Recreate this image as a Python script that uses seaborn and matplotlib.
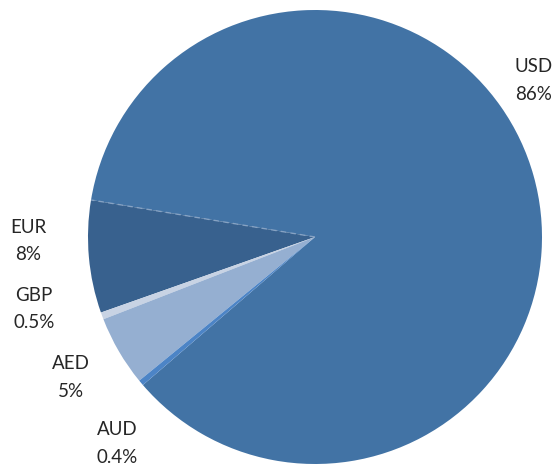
import matplotlib
matplotlib.use("Agg")
import matplotlib.pyplot as plt
import numpy as np
import seaborn as sns

# Currency share of the portfolio
currencies = ["USD", "EUR", "GBP", "AED", "AUD"]
shares = [86, 8, 0.5, 5, 0.4]
share_labels = ["86%", "8%", "0.5%", "5%", "0.4%"]

colors = ["#4273A5", "#38618E", "#C8D3E4", "#95AFD1", "#4C84C6"]

sns.set_theme(style="white")
plt.rcParams["font.family"] = ["Lato", "DejaVu Sans"]

fig = plt.figure(figsize=(5.58, 4.66), dpi=100)
ax = fig.add_axes([0, 0, 1, 1])

wedges, _ = ax.pie(
    shares,
    colors=colors,
    startangle=220.7,
    counterclock=True,
    radius=1.0,
    wedgeprops=dict(linewidth=0),
)

# faint dashed seam along the USD / EUR boundary
theta = np.deg2rad(wedges[1].theta1)
ax.plot([0, np.cos(theta)], [0, np.sin(theta)], color="#8FA9C9",
        lw=1.0, ls=(0, (4, 3)), alpha=0.8, zorder=3)

# label block centres (data units, pie radius = 1)
label_pos = {
    "USD": (0.965, 0.690),
    "EUR": (-1.264, -0.018),
    "GBP": (-1.238, -0.317),
    "AED": (-1.075, -0.619),
    "AUD": (-0.872, -0.910),
}
for cur, lab in zip(currencies, share_labels):
    x, y = label_pos[cur]
    ax.text(x, y, f"{cur}\n{lab}", ha="center", va="center",
            fontsize=13.5, color="#262626", linespacing=1.76)

ax.set_xlim(-315 / 227, (558 - 315) / 227)
ax.set_ylim(-(466 - 237) / 227, 237 / 227)
ax.set_aspect("equal")
ax.axis("off")

fig.savefig("out.png", dpi=100)
